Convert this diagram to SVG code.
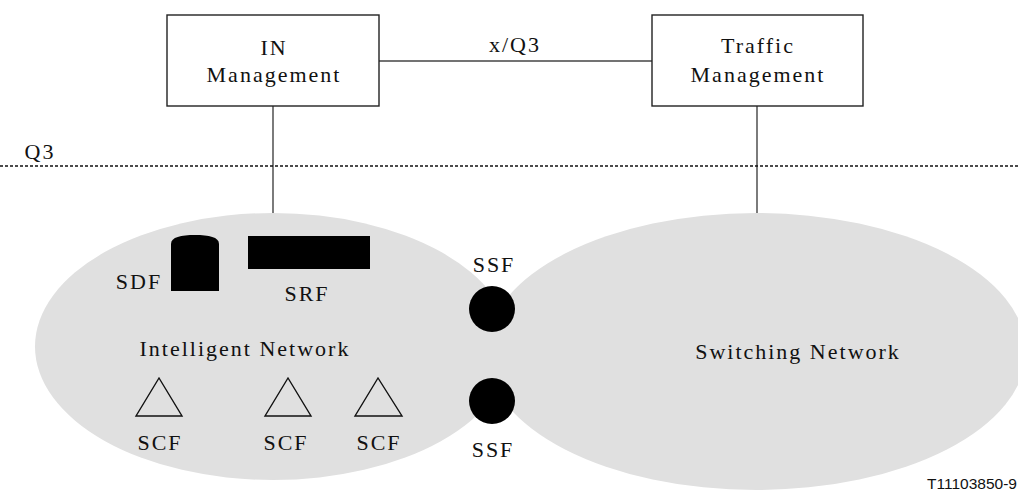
<svg xmlns="http://www.w3.org/2000/svg" width="1018" height="491" viewBox="0 0 1018 491">
<style>
.t{font-family:'Liberation Serif','DejaVu Serif','Times New Roman',Times,serif;font-size:22px;letter-spacing:2px;fill:#111;text-anchor:middle}
.box{fill:#fff;stroke:#222;stroke-width:1.4}
.ln{stroke:#444;stroke-width:1.4;fill:none}
.net{fill:#e0e0e0}
.tri{fill:none;stroke:#111;stroke-width:1.4}
.blk{fill:#000}
</style>
<rect width="1018" height="491" fill="#fff"/>
<g id="networks">
<ellipse id="intelligent-network-area" class="net" cx="273" cy="346.5" rx="238" ry="133.5"/>
<ellipse id="switching-network-area" class="net" cx="756" cy="351.5" rx="270" ry="138.5"/>
</g>
<g id="connectors">
<line class="ln" x1="379" y1="61" x2="652" y2="61"/>
<line class="ln" x1="273" y1="106" x2="273" y2="213"/>
<line class="ln" x1="757" y1="106" x2="757" y2="213"/>
<line x1="0" y1="166" x2="1018" y2="166" stroke="#111" stroke-width="1.5" stroke-dasharray="3 2"/>
</g>
<g font-family="Liberation Serif, DejaVu Serif, serif">
<g id="in-management">
<rect class="box" x="167" y="15" width="212" height="91"/>
<text class="t" x="274" y="55">IN</text>
<text class="t" x="274" y="82">Management</text>
</g>
<g id="traffic-management">
<rect class="box" x="652" y="15" width="211" height="91"/>
<text class="t" x="758" y="53">Traffic</text>
<text class="t" x="758" y="82">Management</text>
</g>
<text class="t" x="515" y="52">x/Q3</text>
<text class="t" x="40" y="159">Q3</text>
<g id="sdf">
<path class="blk" d="M171,291 L171,244 C171,237 181,235 195,235 C209,235 219,237 219,244 L219,291 Z"/>
<text class="t" x="139" y="289">SDF</text>
</g>
<g id="srf">
<rect class="blk" x="248" y="236" width="122" height="33"/>
<text class="t" x="307" y="301">SRF</text>
</g>
<text id="intelligent-network" class="t" x="245" y="356">Intelligent Network</text>
<g id="scf1">
<polygon class="tri" points="159,378 136,416 182,416"/>
<text class="t" x="160" y="450">SCF</text>
</g>
<g id="scf2">
<polygon class="tri" points="288,378 265,416 311,416"/>
<text class="t" x="286" y="450">SCF</text>
</g>
<g id="scf3">
<polygon class="tri" points="378,378 355,416 402,416"/>
<text class="t" x="379" y="450">SCF</text>
</g>
<g id="ssf1">
<circle class="blk" cx="492" cy="309" r="23"/>
<text class="t" x="494" y="272">SSF</text>
</g>
<g id="ssf2">
<circle class="blk" cx="492" cy="401" r="23"/>
<text class="t" x="493" y="457">SSF</text>
</g>
<text id="switching-network" class="t" x="798" y="359">Switching Network</text>
</g>
<text x="1017" y="489" font-family="Liberation Sans, Arial, sans-serif" font-size="15.5" fill="#111" text-anchor="end">T11103850-9</text>
</svg>
